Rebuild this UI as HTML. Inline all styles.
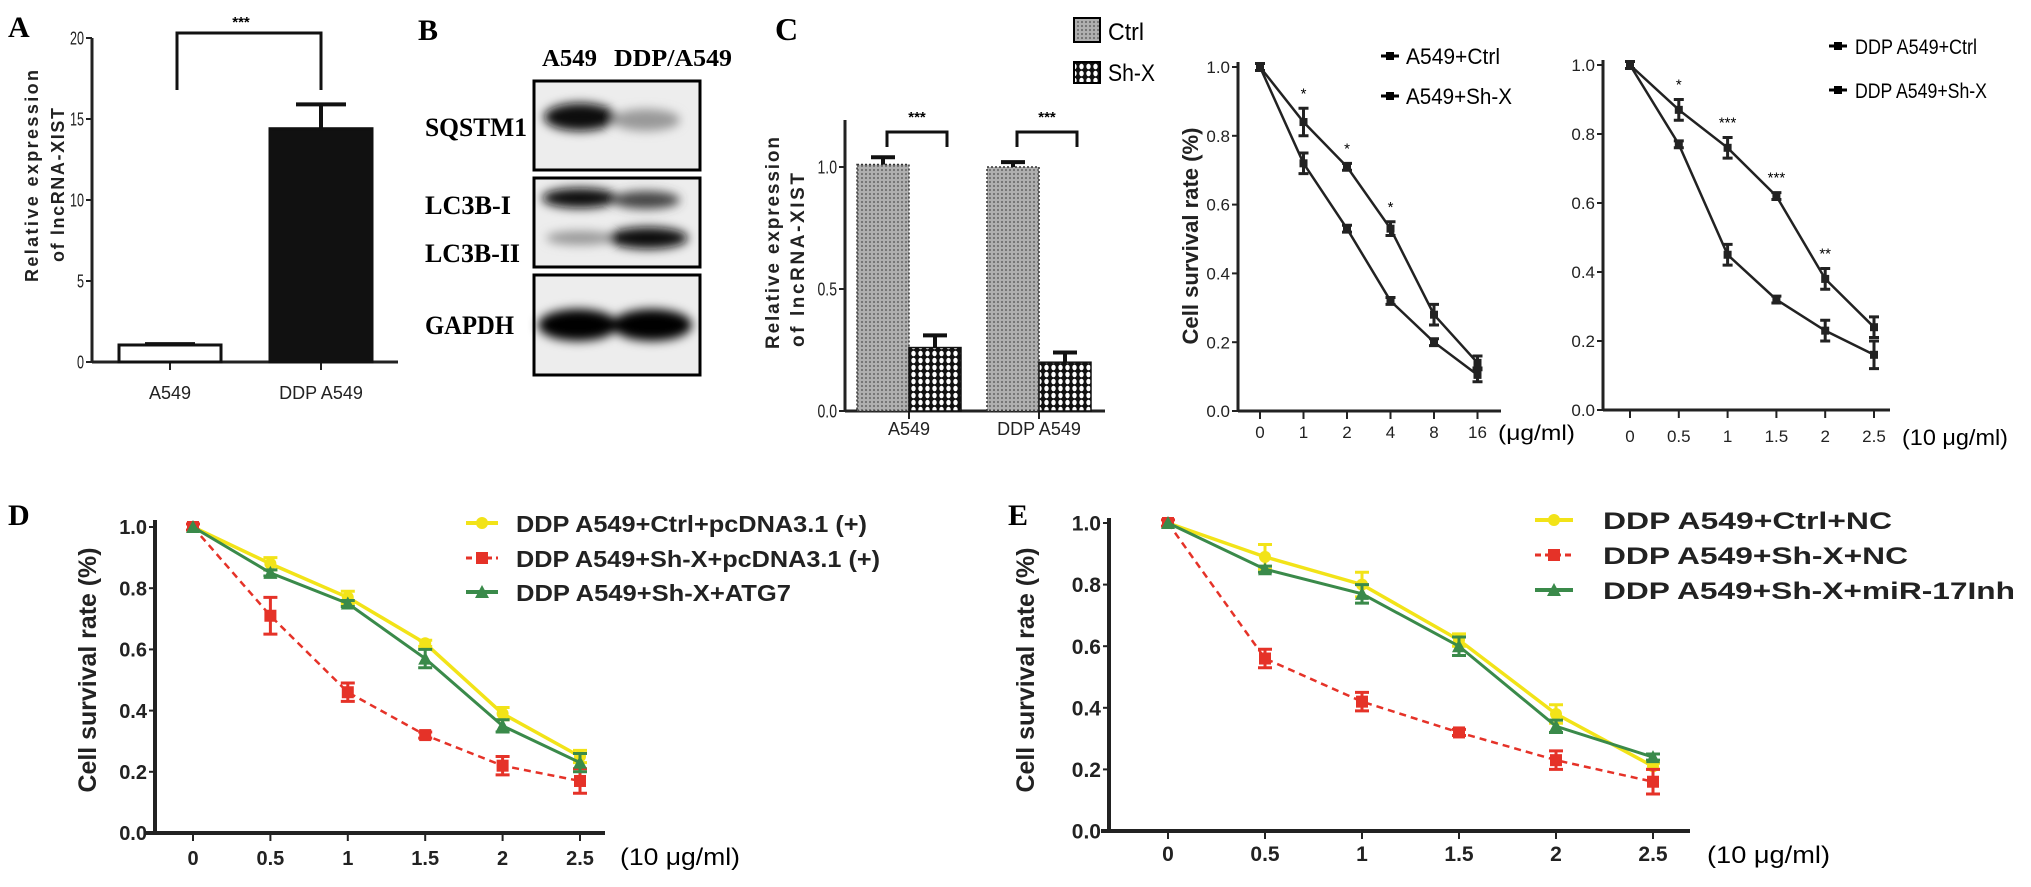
<!DOCTYPE html>
<html><head><meta charset="utf-8"><style>
html,body{margin:0;padding:0;background:#fff;}
svg{display:block;}
</style></head><body>
<svg id="fig" xmlns="http://www.w3.org/2000/svg" width="2031" height="887" viewBox="0 0 2031 887" font-family="'Liberation Sans', sans-serif">
<defs>
<filter id="blur" x="-50%" y="-50%" width="200%" height="200%"><feGaussianBlur stdDeviation="5"/></filter>
<pattern id="ctrlPat" width="4" height="4" patternUnits="userSpaceOnUse"><rect width="4" height="4" fill="#b0b0b0"/><circle cx="2" cy="2" r="1.1" fill="#707070"/></pattern>
<pattern id="shxPat" width="7" height="7" patternUnits="userSpaceOnUse"><rect width="7" height="7" fill="#111"/><ellipse cx="3.5" cy="3.5" rx="2.2" ry="2.8" fill="#fff"/></pattern>
</defs>
<rect x="0" y="0" width="2031" height="887" fill="#fff"/>

<text x="8" y="37" font-family="'Liberation Serif', serif" font-weight="bold" font-size="30">A</text>
<text x="418" y="40" font-family="'Liberation Serif', serif" font-weight="bold" font-size="30">B</text>
<text x="775" y="40" font-family="'Liberation Serif', serif" font-weight="bold" font-size="32">C</text>
<text x="8" y="525" font-family="'Liberation Serif', serif" font-weight="bold" font-size="30">D</text>
<text x="1008" y="525" font-family="'Liberation Serif', serif" font-weight="bold" font-size="30">E</text>

<g font-family="'Liberation Serif', serif" font-weight="bold">
<text x="542" y="66" font-size="24" textLength="55" lengthAdjust="spacingAndGlyphs">A549</text>
<text x="614" y="66" font-size="24" textLength="118" lengthAdjust="spacingAndGlyphs">DDP/A549</text>
<rect x="534" y="81" width="166" height="89" fill="#ededed" stroke="#000" stroke-width="3"/>
<rect x="534" y="178" width="166" height="89" fill="#ededed" stroke="#000" stroke-width="3"/>
<rect x="534" y="275" width="166" height="100" fill="#ededed" stroke="#000" stroke-width="3"/>
<g filter="url(#blur)">
<ellipse cx="580" cy="117" rx="36" ry="14" fill="#111"/>
<ellipse cx="646" cy="120" rx="34" ry="11" fill="#999"/>
<ellipse cx="580" cy="198" rx="38" ry="10" fill="#111"/>
<ellipse cx="646" cy="200" rx="34" ry="9" fill="#444"/>
<ellipse cx="580" cy="238" rx="34" ry="7" fill="#999"/>
<ellipse cx="648" cy="238" rx="40" ry="11" fill="#111"/>
<ellipse cx="578" cy="325" rx="40" ry="16" fill="#000"/>
<ellipse cx="652" cy="325" rx="40" ry="16" fill="#000"/>
</g>
<text x="425" y="136" font-size="26" textLength="102" lengthAdjust="spacingAndGlyphs">SQSTM1</text>
<text x="425" y="214" font-size="26" textLength="86" lengthAdjust="spacingAndGlyphs">LC3B-I</text>
<text x="425" y="262" font-size="26" textLength="95" lengthAdjust="spacingAndGlyphs">LC3B-II</text>
<text x="425" y="334" font-size="26" textLength="89" lengthAdjust="spacingAndGlyphs">GAPDH</text>
</g>

<g font-weight="bold" fill="#222">
<text transform="translate(38,176) rotate(-90)" text-anchor="middle" font-size="18" textLength="212" lengthAdjust="spacing">Relative expression</text>
<text transform="translate(64,185) rotate(-90)" text-anchor="middle" font-size="18" textLength="154" lengthAdjust="spacing">of lncRNA-XIST</text>
<text transform="translate(779,243) rotate(-90)" text-anchor="middle" font-size="19" textLength="212" lengthAdjust="spacing">Relative expression</text>
<text transform="translate(804,260) rotate(-90)" text-anchor="middle" font-size="19" textLength="174" lengthAdjust="spacing">of lncRNA-XIST</text>
<text transform="translate(1198,236) rotate(-90)" text-anchor="middle" font-size="22" textLength="217" lengthAdjust="spacingAndGlyphs">Cell survival rate (%)</text>
<text transform="translate(96,670) rotate(-90)" text-anchor="middle" font-size="25" textLength="245" lengthAdjust="spacingAndGlyphs">Cell survival rate (%)</text>
<text transform="translate(1034,670) rotate(-90)" text-anchor="middle" font-size="25" textLength="245" lengthAdjust="spacingAndGlyphs">Cell survival rate (%)</text>
</g>

<text x="1498" y="440" font-size="21" textLength="77" lengthAdjust="spacingAndGlyphs">(μg/ml)</text>
<text x="1902" y="445" font-size="22" textLength="106" lengthAdjust="spacingAndGlyphs">(10 μg/ml)</text>
<text x="620" y="865" font-size="24" textLength="120" lengthAdjust="spacingAndGlyphs">(10 μg/ml)</text>
<text x="1707" y="863" font-size="24" textLength="123" lengthAdjust="spacingAndGlyphs">(10 μg/ml)</text>

<g>
<rect x="1074" y="18" width="26" height="24" fill="url(#ctrlPat)" stroke="#000" stroke-width="2"/>
<text x="1108" y="40" font-size="24" textLength="36" lengthAdjust="spacingAndGlyphs">Ctrl</text>
<rect x="1074" y="62" width="26" height="21" fill="url(#shxPat)" stroke="#000" stroke-width="2"/>
<text x="1108" y="81" font-size="24" textLength="47" lengthAdjust="spacingAndGlyphs">Sh-X</text>
</g>

<g>
<line x1="1381" y1="56" x2="1399" y2="56" stroke="#000" stroke-width="3"/>
<rect x="1386" y="52" width="8" height="8" fill="#000"/>
<text x="1406" y="64" font-size="22" textLength="94" lengthAdjust="spacingAndGlyphs">A549+Ctrl</text>
<line x1="1381" y1="96" x2="1399" y2="96" stroke="#000" stroke-width="3"/>
<rect x="1386" y="92" width="8" height="8" fill="#000"/>
<text x="1406" y="104" font-size="22" textLength="106" lengthAdjust="spacingAndGlyphs">A549+Sh-X</text>
</g>
<g>
<line x1="1829" y1="46" x2="1847" y2="46" stroke="#000" stroke-width="3"/>
<rect x="1834" y="42" width="8" height="8" fill="#000"/>
<text x="1855" y="54" font-size="21" textLength="122" lengthAdjust="spacingAndGlyphs">DDP A549+Ctrl</text>
<line x1="1829" y1="90" x2="1847" y2="90" stroke="#000" stroke-width="3"/>
<rect x="1834" y="86" width="8" height="8" fill="#000"/>
<text x="1855" y="98" font-size="21" textLength="132" lengthAdjust="spacingAndGlyphs">DDP A549+Sh-X</text>
</g>

<g font-weight="bold" font-size="23" fill="#222">
<line x1="466" y1="523" x2="498" y2="523" stroke="#f2e318" stroke-width="4"/>
<circle cx="482" cy="523" r="6" fill="#f2e318"/>
<text x="516" y="532" textLength="351" lengthAdjust="spacingAndGlyphs">DDP A549+Ctrl+pcDNA3.1 (+)</text>
<line x1="466" y1="558" x2="498" y2="558" stroke="#e53228" stroke-width="3" stroke-dasharray="6,4"/>
<rect x="476" y="552" width="12" height="12" fill="#e53228"/>
<text x="516" y="567" textLength="364" lengthAdjust="spacingAndGlyphs">DDP A549+Sh-X+pcDNA3.1 (+)</text>
<line x1="466" y1="592" x2="498" y2="592" stroke="#3a8a4a" stroke-width="4"/>
<polygon points="482,585 489,598 475,598" fill="#3a8a4a"/>
<text x="516" y="601" textLength="275" lengthAdjust="spacingAndGlyphs">DDP A549+Sh-X+ATG7</text>
</g>
<g font-weight="bold" font-size="24" fill="#222">
<line x1="1535" y1="520" x2="1573" y2="520" stroke="#f2e318" stroke-width="4"/>
<circle cx="1554" cy="520" r="6" fill="#f2e318"/>
<text x="1603" y="529" textLength="289" lengthAdjust="spacingAndGlyphs">DDP A549+Ctrl+NC</text>
<line x1="1535" y1="555" x2="1573" y2="555" stroke="#e53228" stroke-width="3" stroke-dasharray="6,4"/>
<rect x="1548" y="549" width="12" height="12" fill="#e53228"/>
<text x="1603" y="564" textLength="305" lengthAdjust="spacingAndGlyphs">DDP A549+Sh-X+NC</text>
<line x1="1535" y1="590" x2="1573" y2="590" stroke="#3a8a4a" stroke-width="4"/>
<polygon points="1554,583 1561,596 1547,596" fill="#3a8a4a"/>
<text x="1603" y="599" textLength="412" lengthAdjust="spacingAndGlyphs">DDP A549+Sh-X+miR-17Inh</text>
</g>
</svg>
<script>
const aCats = ["A549", "DDP A549"];
const aVals = [1.05, 14.4];
const aErr = [0.05, 1.5];
const aTicks = [0, 5, 10, 15, 20];

const cCats = ["A549", "DDP A549"];
const cCtrl = [1.01, 1.0];
const cCtrlErr = [0.03, 0.02];
const cShx = [0.26, 0.2];
const cShxErr = [0.05, 0.04];
const cTicks = [0, 0.5, 1.0];
const cTickLabels = ["0.0", "0.5", "1.0"];

const survTicks = [0, 0.2, 0.4, 0.6, 0.8, 1.0];
const survTickLabels = ["0.0", "0.2", "0.4", "0.6", "0.8", "1.0"];

const c1X = ["0", "1", "2", "4", "8", "16"];
const c1Ctrl = [1.0, 0.84, 0.71, 0.53, 0.28, 0.14];
const c1CtrlErr = [0.01, 0.04, 0.01, 0.02, 0.03, 0.02];
const c1Shx = [1.0, 0.72, 0.53, 0.32, 0.2, 0.105];
const c1ShxErr = [0.01, 0.03, 0.01, 0.01, 0.01, 0.02];
const c1Stars = ["", "*", "*", "*", "", ""];

const c2X = ["0", "0.5", "1", "1.5", "2", "2.5"];
const c2Ctrl = [1.0, 0.87, 0.76, 0.62, 0.38, 0.24];
const c2CtrlErr = [0.01, 0.03, 0.03, 0.01, 0.03, 0.03];
const c2Shx = [1.0, 0.77, 0.45, 0.32, 0.23, 0.16];
const c2ShxErr = [0.01, 0.01, 0.03, 0.01, 0.03, 0.04];
const c2Stars = ["", "*", "***", "***", "**", ""];

const dX = ["0", "0.5", "1", "1.5", "2", "2.5"];
const dCtrl = [1.0, 0.88, 0.77, 0.62, 0.39, 0.25];
const dCtrlErr = [0, 0.02, 0.02, 0.01, 0.02, 0.02];
const dShx = [1.0, 0.71, 0.46, 0.32, 0.22, 0.17];
const dShxErr = [0.01, 0.06, 0.03, 0.01, 0.03, 0.04];
const dAtg7 = [1.0, 0.85, 0.75, 0.57, 0.35, 0.23];
const dAtg7Err = [0, 0.01, 0.01, 0.03, 0.02, 0.03];

const eX = ["0", "0.5", "1", "1.5", "2", "2.5"];
const eCtrl = [1.0, 0.89, 0.80, 0.62, 0.38, 0.21];
const eCtrlErr = [0, 0.04, 0.04, 0.02, 0.03, 0.01];
const eShx = [1.0, 0.56, 0.42, 0.32, 0.23, 0.16];
const eShxErr = [0.01, 0.03, 0.03, 0.01, 0.03, 0.04];
const eMir = [1.0, 0.85, 0.77, 0.60, 0.34, 0.24];
const eMirErr = [0, 0.01, 0.03, 0.03, 0.02, 0.01];

const NS = 'http://www.w3.org/2000/svg';
const svg = document.getElementById('fig');
function el(tag, attrs, parent) {
  const e = document.createElementNS(NS, tag);
  for (const k in attrs) e.setAttribute(k, attrs[k]);
  (parent || svg).appendChild(e);
  return e;
}
function lin(d0, d1, r0, r1) { return v => r0 + (v - d0) * (r1 - r0) / (d1 - d0); }
function band(n, x0, step) { return i => x0 + i * step; }

function axes(g, cfg) {
  const ya = el('line', {x1: cfg.ax, y1: cfg.top, x2: cfg.ax, y2: cfg.base, stroke: '#222', 'stroke-width': cfg.sw}, g);
  
  
  const xa = el('line', {x1: cfg.ax - (cfg.xStart || 0), y1: cfg.base, x2: cfg.xEnd, y2: cfg.base, stroke: '#222', 'stroke-width': cfg.sw}, g);
  
  
  cfg.yTicks.forEach((v, i) => {
    const y = cfg.y(v);
    const t = el('line', {x1: cfg.ax - 6, y1: y, x2: cfg.ax, y2: y, stroke: '#222', 'stroke-width': 2}, g);
    
    
    const attrs = {x: cfg.ax - 8, y: y + cfg.fs * 0.36, 'text-anchor': 'end', 'font-size': cfg.fs, 'font-weight': cfg.fw || 'normal', fill: '#222'};
    if (cfg.cw) { attrs.textLength = cfg.yLabels[i].length * cfg.cw; attrs.lengthAdjust = 'spacingAndGlyphs'; }
    const lb = el('text', attrs, g);
    lb.textContent = cfg.yLabels[i];
    
    
  });
  cfg.xLabels.forEach((s, i) => {
    const x = cfg.x(i);
    const t = el('line', {x1: x, y1: cfg.base, x2: x, y2: cfg.base + 8, stroke: '#222', 'stroke-width': 2}, g);
    
    
    const lb = el('text', {x: x, y: cfg.base + cfg.xLabelDy, 'text-anchor': 'middle', 'font-size': cfg.xfs || cfg.fs, 'font-weight': cfg.fw || 'normal', fill: '#222'}, g);
    lb.textContent = s;
    
    
  });
}

function errBar(g, x, yv, cap, color, sw, name) {
  const p = el('path', {d: `M${x},${yv[0]}V${yv[1]}M${x - cap / 2},${yv[0]}H${x + cap / 2}M${x - cap / 2},${yv[1]}H${x + cap / 2}`, stroke: color, 'stroke-width': sw, fill: 'none'}, g);
  
  
}

function series(g, id, vals, errs, x, y, color, dash, marker, width, cap) {
  const pts = vals.map((v, i) => `${x(i)},${y(v)}`).join(' ');
  const pl = el('polyline', {points: pts, fill: 'none', stroke: color, 'stroke-width': width, 'stroke-dasharray': dash || 'none'}, g);
  
  
  vals.forEach((v, i) => {
    const cx = x(i), cy = y(v);
    if (errs[i] > 0.005) errBar(g, cx, [y(v + errs[i]), y(v - errs[i])], cap, color, 3, id + '-error-bar');
    let m;
    if (marker === 'circle') m = el('circle', {cx: cx, cy: cy, r: 6, fill: color}, g);
    else if (marker === 'tri') m = el('polygon', {points: `${cx},${cy - 7} ${cx + 7},${cy + 6} ${cx - 7},${cy + 6}`, fill: color}, g);
    else if (marker === 'sq') m = el('rect', {x: cx - 6, y: cy - 6, width: 12, height: 12, fill: color}, g);
    else m = el('rect', {x: cx - 4, y: cy - 4, width: 8, height: 8, fill: color}, g);
    
    
  });
}

{
  const g = el('g', {});
  
  
  const y = lin(0, 20, 362, 38);
  const x = band(2, 170, 151);
  axes(g, {id: 'a', ax: 92, top: 38, base: 362, xEnd: 398, sw: 3, y: y, yTicks: aTicks, yLabels: aTicks.map(String), x: x, xLabels: aCats, fs: 18, cw: 7, xLabelDy: 37});
  aVals.forEach((v, i) => {
    const bw = 102;
    const r = el('rect', {x: x(i) - bw / 2, y: y(v), width: bw, height: y(0) - y(v), fill: i === 0 ? '#fff' : '#111', stroke: '#111', 'stroke-width': 3}, g);
    
    
    const e = el('path', {d: `M${x(i)},${y(v)}V${y(v + aErr[i])}M${x(i) - 25},${y(v + aErr[i])}H${x(i) + 25}`, stroke: '#111', 'stroke-width': 4, fill: 'none'}, g);
    
    
  });
  const br = el('path', {d: `M177,90V33H321V90`, stroke: '#111', 'stroke-width': 3, fill: 'none'}, g);
  
  
  const st = el('text', {x: 241, y: 27, 'text-anchor': 'middle', 'font-size': 15, 'font-weight': 'bold'}, g);
  st.textContent = '***';
  
  
}

{
  const g = el('g', {});
  
  
  const y = lin(0, 1, 411, 167);
  const x = band(2, 909, 130);
  axes(g, {id: 'c-bar', ax: 845, top: 120, base: 411, xEnd: 1105, sw: 3, y: y, yTicks: cTicks, yLabels: cTickLabels, x: x, xLabels: cCats, fs: 18, cw: 6.5, xLabelDy: 24});
  cCats.forEach((c, i) => {
    const bw = 52;
    const r1 = el('rect', {x: x(i) - bw, y: y(cCtrl[i]), width: bw, height: y(0) - y(cCtrl[i]), fill: 'url(#ctrlPat)', stroke: '#333', 'stroke-width': 1.5, 'stroke-dasharray': '2,2'}, g);
    
    
    const r2 = el('rect', {x: x(i), y: y(cShx[i]), width: bw, height: y(0) - y(cShx[i]), fill: 'url(#shxPat)', stroke: '#111', 'stroke-width': 1.5}, g);
    
    
    const e1 = el('path', {d: `M${x(i) - bw / 2},${y(cCtrl[i])}V${y(cCtrl[i] + cCtrlErr[i])}M${x(i) - bw / 2 - 12},${y(cCtrl[i] + cCtrlErr[i])}H${x(i) - bw / 2 + 12}`, stroke: '#111', 'stroke-width': 4, fill: 'none'}, g);
    
    
    const e2 = el('path', {d: `M${x(i) + bw / 2},${y(cShx[i])}V${y(cShx[i] + cShxErr[i])}M${x(i) + bw / 2 - 12},${y(cShx[i] + cShxErr[i])}H${x(i) + bw / 2 + 12}`, stroke: '#111', 'stroke-width': 4, fill: 'none'}, g);
    
    
    const br = el('path', {d: `M${x(i) - 22},147V132H${x(i) + 38}V147`, stroke: '#111', 'stroke-width': 3, fill: 'none'}, g);
    
    
    const st = el('text', {x: x(i) + 8, y: 122, 'text-anchor': 'middle', 'font-size': 15, 'font-weight': 'bold'}, g);
    st.textContent = '***';
    
    
  });
}

function stars(g, arr, x, y, vals, errs, fs) {
  arr.forEach((s, i) => {
    if (!s) return;
    const t = el('text', {x: x(i), y: y(vals[i] + errs[i]) - 10, 'text-anchor': 'middle', 'font-size': fs}, g);
    t.textContent = s;
    
    
  });
}

{
  const g = el('g', {});
  
  
  const y = lin(0, 1, 411, 67);
  const x = band(6, 1260, 43.5);
  axes(g, {id: 'c1', ax: 1238, top: 62, base: 411, xEnd: 1501, sw: 3, y: y, yTicks: survTicks, yLabels: survTickLabels, x: x, xLabels: c1X, fs: 17, xLabelDy: 27});
  series(g, 'c1-ctrl', c1Ctrl, c1CtrlErr, x, y, '#222', null, 'small', 2.5, 10);
  series(g, 'c1-shx', c1Shx, c1ShxErr, x, y, '#222', null, 'small', 2.5, 10);
  stars(g, c1Stars, x, y, c1Ctrl, c1CtrlErr, 15);
}
{
  const g = el('g', {});
  
  
  const y = lin(0, 1, 410, 65);
  const x = band(6, 1630, 48.8);
  axes(g, {id: 'c2', ax: 1603, top: 60, base: 410, xEnd: 1890, sw: 3, y: y, yTicks: survTicks, yLabels: survTickLabels, x: x, xLabels: c2X, fs: 17, xLabelDy: 32});
  series(g, 'c2-ctrl', c2Ctrl, c2CtrlErr, x, y, '#222', null, 'small', 2.5, 10);
  series(g, 'c2-shx', c2Shx, c2ShxErr, x, y, '#222', null, 'small', 2.5, 10);
  stars(g, c2Stars, x, y, c2Ctrl, c2CtrlErr, 15);
}
{
  const g = el('g', {});
  
  
  const y = lin(0, 1, 833, 527);
  const x = band(6, 193, 77.4);
  axes(g, {id: 'd', ax: 155, top: 520, base: 833, xEnd: 605, xStart: 10, sw: 4, y: y, yTicks: survTicks, yLabels: survTickLabels, x: x, xLabels: dX, fs: 20, fw: 'bold', xLabelDy: 32});
  series(g, 'd-ctrl', dCtrl, dCtrlErr, x, y, '#f2e318', null, 'circle', 3.5, 14);
  series(g, 'd-shx', dShx, dShxErr, x, y, '#e53228', '7,5', 'sq', 2.5, 14);
  series(g, 'd-atg7', dAtg7, dAtg7Err, x, y, '#3a8a4a', null, 'tri', 3, 14);
}
{
  const g = el('g', {});
  
  
  const y = lin(0, 1, 831, 523);
  const x = band(6, 1168, 97);
  axes(g, {id: 'e', ax: 1109, top: 518, base: 831, xEnd: 1690, xStart: 8, sw: 4, y: y, yTicks: survTicks, yLabels: survTickLabels, x: x, xLabels: eX, fs: 21, fw: 'bold', xLabelDy: 30});
  series(g, 'e-ctrl', eCtrl, eCtrlErr, x, y, '#f2e318', null, 'circle', 3.5, 14);
  series(g, 'e-shx', eShx, eShxErr, x, y, '#e53228', '7,5', 'sq', 2.5, 14);
  series(g, 'e-mir', eMir, eMirErr, x, y, '#3a8a4a', null, 'tri', 3, 14);
}
</script>
</body></html>
